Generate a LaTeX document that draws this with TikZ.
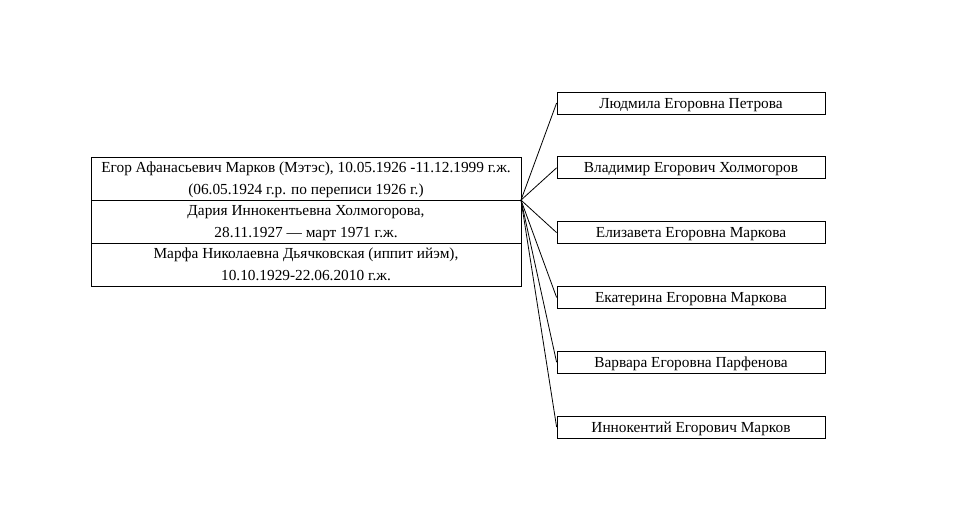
\documentclass[tikz,border=0pt]{standalone}
\usepackage{fontspec}
\setmainfont{Liberation Serif}
\usetikzlibrary{positioning}
\newcommand{\twolines}[2]{\rule{0pt}{11.25pt}#1\\#2\rule[-4.5pt]{0pt}{4.5pt}}
\tikzset{
    rowbox/.style={
        draw, line width=0.6pt, outer sep=0pt, minimum width=322.5pt, minimum height=32.4pt,
        inner sep=0pt, align=center, font=\fontsize{11.5}{16.5}\selectfont
    },
    kidbox/.style={
        draw, line width=0.6pt, minimum width=201pt, minimum height=16.5pt,
        inner sep=0pt, text height=7.6pt, text depth=0pt, font=\fontsize{11.5}{12}\selectfont
    }
}

\begin{document}
\begin{tikzpicture}[x=0.75pt, y=-0.75pt]
	\useasboundingbox (0,0) rectangle (954,515);
	
	\node[rowbox] (egor) at (306,178.5) {\twolines{Егор Афанасьевич Марков (Мэтэс), 10.05.1926 -11.12.1999 г.ж.}{(06.05.1924 г.р. по переписи 1926 г.)}};
	\node[rowbox, below=0pt of egor] (dariya) {\twolines{Дария Иннокентьевна Холмогорова,}{28.11.1927 — март 1971 г.ж.}};
	\node[rowbox, below=0pt of dariya] (marfa) {\twolines{Марфа Николаевна Дьячковская (иппит ийэм),}{10.10.1929-22.06.2010 г.ж.}};
	
	\coordinate (fork) at (egor.south east);
	
	\foreach \name [count=\i] in {Людмила Егоровна Петрова, Владимир Егорович Холмогоров, Елизавета Егоровна Маркова, Екатерина Егоровна Маркова, Варвара Егоровна Парфенова, Иннокентий Егорович Марков} {
			\pgfmathsetmacro{\y}{103+64.8*(\i-1)}
			\node[kidbox] (kid\i) at (691,\y) {\name};
			\draw[line width=0.6pt] (fork) -- (kid\i.west);
	}
	
\end{tikzpicture}
\end{document}
